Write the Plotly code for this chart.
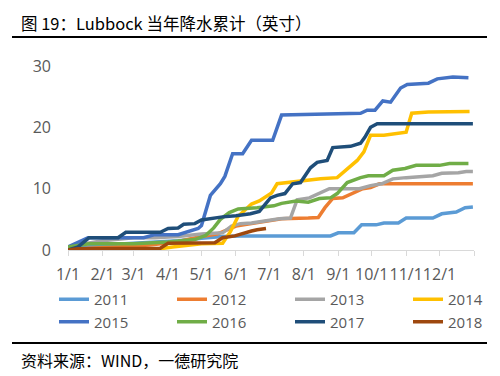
import plotly.graph_objects as go

YEAR_BASE = "2018"

years = ["2011", "2012", "2013", "2014", "2015", "2016", "2017", "2018"]
colors = ["#5B9BD5", "#ED7D31", "#A5A5A5", "#FFC000", "#4472C4", "#70AD47", "#1F4E79", "#9E480E"]

d2011 = ["1/1", "1/15", "2/1", "2/20", "3/15", "4/10", "5/1", "5/20", "6/5", "8/25", "9/1", "9/15", "9/22", "10/5", "10/12", "10/25", "11/1", "11/25", "12/3", "12/16", "12/24", "12/31"]
v2011 = [0.3, 0.4, 0.8, 1.0, 1.2, 1.5, 1.9, 2.2, 2.3, 2.3, 2.8, 2.8, 4.1, 4.1, 4.4, 4.4, 5.2, 5.2, 5.9, 6.2, 6.9, 7.0]

d2012 = ["1/1", "1/20", "2/15", "3/15", "4/5", "4/20", "5/1", "5/15", "5/25", "6/1", "6/15", "7/1", "7/12", "8/5", "8/14", "8/20", "8/27", "9/5", "9/15", "9/23", "9/30", "10/8", "12/31"]
v2012 = [0.0, 0.3, 0.5, 0.8, 1.2, 1.8, 2.2, 2.6, 3.4, 3.9, 4.3, 4.8, 5.1, 5.2, 5.3, 6.9, 8.4, 8.5, 9.3, 10.0, 10.2, 10.8, 10.8]

d2013 = ["1/1", "1/15", "2/1", "3/1", "3/20", "4/10", "5/1", "5/20", "5/28", "6/5", "6/15", "6/28", "7/10", "7/20", "7/26", "8/6", "8/15", "8/24", "9/20", "9/30", "10/10", "10/20", "11/1", "11/25", "12/3", "12/18", "12/25", "12/31"]
v2013 = [0.3, 1.0, 1.5, 2.0, 2.0, 2.2, 2.6, 2.8, 3.9, 4.3, 4.4, 4.8, 5.1, 5.2, 8.2, 8.5, 9.3, 10.0, 10.0, 10.5, 10.8, 11.6, 11.8, 12.1, 12.5, 12.6, 12.8, 12.8]

d2014 = ["1/1", "3/25", "4/5", "5/1", "5/20", "5/27", "6/3", "6/10", "6/15", "6/22", "6/28", "7/3", "7/8", "7/18", "7/29", "8/16", "8/31", "9/10", "9/18", "9/24", "9/30", "10/12", "10/22", "11/1", "11/6", "11/21", "12/28"]
v2014 = [0.0, 0.2, 0.5, 1.0, 1.1, 3.0, 5.5, 6.7, 7.5, 8.0, 8.7, 9.3, 10.8, 11.0, 11.3, 11.6, 11.8, 13.3, 14.6, 16.0, 18.7, 18.7, 19.0, 19.2, 22.3, 22.5, 22.6]

d2015 = ["1/1", "1/19", "3/10", "3/20", "4/10", "4/20", "4/28", "5/1", "5/9", "5/18", "5/22", "5/29", "6/7", "6/15", "7/4", "7/12", "8/25", "9/21", "9/27", "10/4", "10/11", "10/18", "10/27", "11/2", "11/21", "11/29", "12/13", "12/27"]
v2015 = [0.5, 2.0, 2.0, 2.5, 2.5, 3.0, 3.5, 4.0, 8.9, 10.8, 12.0, 15.7, 15.7, 17.9, 17.9, 22.0, 22.1, 22.3, 22.8, 22.8, 24.3, 24.1, 26.4, 27.0, 27.2, 27.9, 28.2, 28.1]

d2016 = ["1/1", "1/20", "3/1", "4/1", "4/25", "5/5", "5/12", "5/18", "5/26", "6/3", "6/20", "7/5", "7/12", "7/25", "8/5", "8/15", "8/25", "8/31", "9/9", "9/21", "9/28", "10/12", "10/20", "10/31", "11/10", "12/1", "12/10", "12/27"]
v2016 = [0.5, 1.0, 1.0, 1.3, 1.7, 2.4, 3.6, 5.0, 6.1, 6.7, 6.9, 7.2, 7.6, 8.0, 7.8, 8.4, 8.5, 9.2, 11.0, 11.8, 12.1, 12.1, 13.0, 13.3, 13.8, 13.8, 14.1, 14.1]

d2017 = ["1/1", "1/10", "1/20", "2/15", "2/22", "3/25", "4/1", "4/10", "4/15", "4/25", "5/1", "5/10", "5/20", "6/1", "6/14", "6/22", "7/2", "7/8", "7/15", "7/22", "7/29", "8/7", "8/13", "8/22", "8/27", "9/12", "9/21", "9/25", "9/30", "10/6", "12/31"]
v2017 = [0.0, 0.5, 2.0, 2.0, 2.9, 2.9, 3.5, 3.6, 4.2, 4.3, 4.9, 5.2, 5.4, 5.6, 5.9, 6.3, 8.5, 8.9, 9.2, 10.8, 11.0, 13.4, 14.3, 14.6, 16.7, 16.9, 17.4, 18.4, 20.0, 20.6, 20.6]

d2018 = ["1/1", "1/10", "3/25", "4/1", "5/13", "5/20", "5/31", "6/5", "6/10", "6/15", "6/20", "6/28"]
v2018 = [0.0, 0.2, 0.3, 1.1, 1.2, 2.0, 2.3, 2.6, 2.8, 3.1, 3.3, 3.5]

tick_dates = ["1/1", "2/1", "3/1", "4/1", "5/1", "6/1", "7/1", "8/1", "9/1", "10/1", "11/1", "12/1"]
tick_labels = ["1/1", "2/1", "3/1", "4/1", "5/1", "6/1", "7/1", "8/1", "9/1", "10/1", "11/1", "12/1"]
y_ticks = [0, 10, 20, 30]

title_text = "图 19：Lubbock 当年降水累计（英寸）"
source_text = "资料来源：WIND，一德研究院"


def to_iso(md, year=YEAR_BASE):
    m, d = md.split("/")
    return f"{year}-{int(m):02d}-{int(d):02d}"


series_dates = [d2011, d2012, d2013, d2014, d2015, d2016, d2017, d2018]
series_vals = [v2011, v2012, v2013, v2014, v2015, v2016, v2017, v2018]

fig = go.Figure()
for name, col, ds, vs in zip(years, colors, series_dates, series_vals):
    fig.add_trace(go.Scatter(
        x=[to_iso(d) for d in ds], y=vs, name=name, mode="lines",
        line=dict(color=col, width=3.5)))

tickvals = [to_iso(d) for d in tick_dates] + ["2019-01-01"]
ticktext = tick_labels + [""]

axis_font = dict(family="Open Sans, Lato, sans-serif", size=16, color="#595959")
legend_font = dict(family="Open Sans, Lato, sans-serif", size=15, color="#595959")

# plot area in pixels: x 68..474, y 66..250
L, R, T, B = 68, 474, 66, 250
PW, PH = R - L, B - T


def px_x(x):
    return (x - L) / PW


def px_y(y):
    return (B - y) / PH


fig.update_layout(
    width=500, height=376,
    margin=dict(l=L, r=500 - R, t=T, b=376 - B, autoexpand=False),
    paper_bgcolor="white", plot_bgcolor="white",
    showlegend=True,
    legend=dict(orientation="h", x=px_x(54), xanchor="left", y=px_y(283), yanchor="top",
                font=legend_font, entrywidth=73, entrywidthmode="pixels",
                tracegroupgap=0, bgcolor="rgba(0,0,0,0)"),
    xaxis=dict(type="date", range=["2018-01-01", "2019-01-01"],
               tickvals=tickvals, ticktext=ticktext, tickangle=0,
               ticks="outside", ticklen=5, tickcolor="#D9D9D9",
               showline=True, linecolor="#D9D9D9", linewidth=1,
               showgrid=False, zeroline=False, tickfont=axis_font,
               ticklabelstandoff=5, automargin=False),
    yaxis=dict(range=[0, 30], tickvals=y_ticks, showgrid=False, zeroline=False,
               showline=False, tickfont=axis_font, ticks="", ticklabelstandoff=16,
               automargin=False),
)

cjk = "Noto Sans CJK SC, sans-serif"
fig.add_annotation(text=title_text, xref="paper", yref="paper",
                   x=px_x(19), y=px_y(23), xanchor="left", yanchor="middle",
                   showarrow=False, font=dict(family=cjk, size=16.5, color="black"))
fig.add_annotation(text=source_text, xref="paper", yref="paper",
                   x=px_x(19), y=px_y(360), xanchor="left", yanchor="middle",
                   showarrow=False, font=dict(family=cjk, size=16, color="black"))

for ypx in (37, 343):
    fig.add_shape(type="line", xref="paper", yref="paper",
                  x0=px_x(12), x1=px_x(487),
                  y0=px_y(ypx), y1=px_y(ypx),
                  line=dict(color="black", width=2))

fig.write_html("out.html", config={"displayModeBar": False},
               post_script="document.body.style.margin='0';document.body.style.overflow='hidden';")
